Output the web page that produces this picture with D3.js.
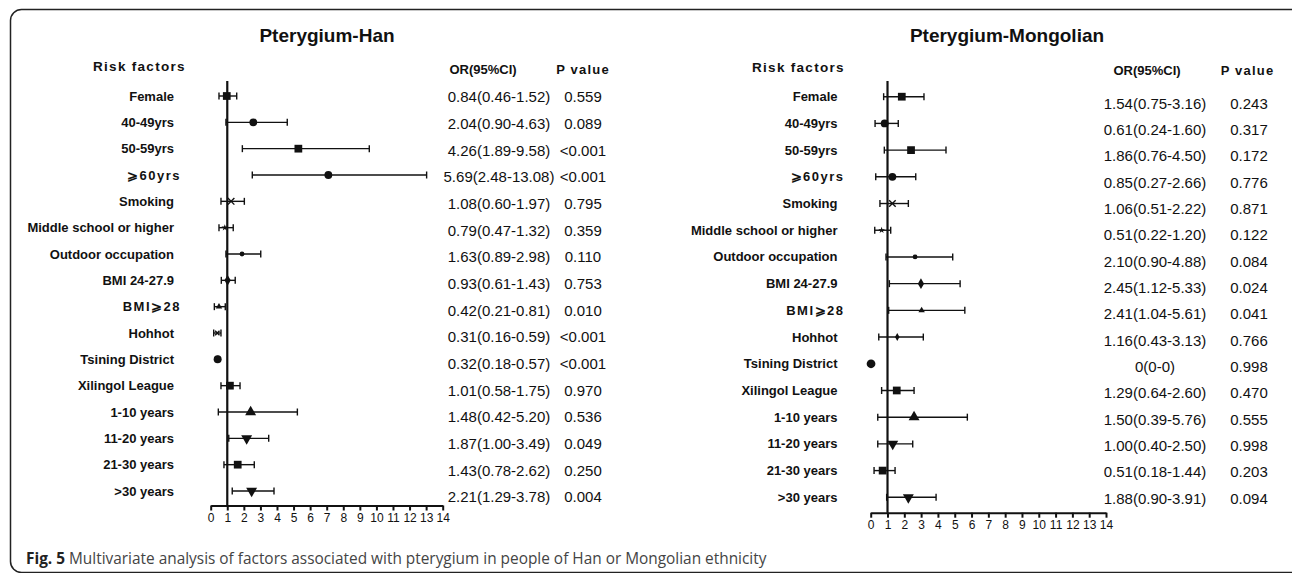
<!DOCTYPE html>
<html><head><meta charset="utf-8">
<script src="https://cdn.jsdelivr.net/npm/d3@7"></script>
<style>
html,body{margin:0;padding:0;background:#fff;}
svg{display:block;}
text{font-family:"Liberation Sans",Arial,sans-serif;fill:#111;}
</style></head>
<body>
<svg id="chart" width="1292" height="573"></svg>
<script>
// ---------- data ----------
const categories = ["Female","40-49yrs","50-59yrs","\u2A7E60yrs","Smoking","Middle school or higher",
  "Outdoor occupation","BMI 24-27.9","BMI\u2A7E28","Hohhot","Tsining District","Xilingol League",
  "1-10 years","11-20 years","21-30 years",">30 years"];
const markerShapes = ["square","circle","square","circle","cross","star","dot","diamond","smalltri",
  "asterisk","hexagon","square","triup","tridown","square","tridown"];
const markerShapesMongol = ["square","circle","square","circle","cross","star","dot","diamond","smalltri",
  "smalldiamond","bigcircle","square","triup","tridown","square","tridown"];

// Han panel (positions as plotted)
const hanPoint = [0.97,2.57,5.29,7.10,1.23,0.85,1.89,1.02,0.50,0.40,0.42,1.16,2.41,2.17,1.63,2.47];
const hanLow   = [0.50,0.92,1.91,2.51,0.62,0.50,0.92,0.64,0.22,0.18,0.40,0.62,0.46,1.09,0.80,1.30];
const hanHigh  = [1.57,4.62,9.57,13.03,2.03,1.36,3.02,1.48,0.88,0.62,0.45,1.77,5.23,3.50,2.63,3.82];
const hanORText = ["0.84(0.46-1.52)","2.04(0.90-4.63)","4.26(1.89-9.58)","5.69(2.48-13.08)","1.08(0.60-1.97)",
  "0.79(0.47-1.32)","1.63(0.89-2.98)","0.93(0.61-1.43)","0.42(0.21-0.81)","0.31(0.16-0.59)","0.32(0.18-0.57)",
  "1.01(0.58-1.75)","1.48(0.42-5.20)","1.87(1.00-3.49)","1.43(0.78-2.62)","2.21(1.29-3.78)"];
const hanP = ["0.559","0.089","<0.001","<0.001","0.795","0.359","0.110","0.753","0.010","<0.001","<0.001",
  "0.970","0.536","0.049","0.250","0.004"];

// Mongolian panel (positions as plotted)
const monPoint = [1.85,0.83,2.40,1.29,1.29,0.65,2.64,2.99,3.03,1.58,0.02,1.55,2.58,1.31,0.71,2.24];
const monLow   = [0.77,0.26,0.81,0.30,0.55,0.24,0.91,1.11,1.07,0.48,null,0.65,0.42,0.42,0.20,0.95];
const monHigh  = [3.17,1.64,4.48,2.68,2.24,1.19,4.88,5.32,5.60,3.13,null,2.58,5.75,2.50,1.45,3.89];
const monORText = ["1.54(0.75-3.16)","0.61(0.24-1.60)","1.86(0.76-4.50)","0.85(0.27-2.66)","1.06(0.51-2.22)",
  "0.51(0.22-1.20)","2.10(0.90-4.88)","2.45(1.12-5.33)","2.41(1.04-5.61)","1.16(0.43-3.13)","0(0-0)",
  "1.29(0.64-2.60)","1.50(0.39-5.76)","1.00(0.40-2.50)","0.51(0.18-1.44)","1.88(0.90-3.91)"];
const monP = ["0.243","0.317","0.172","0.776","0.871","0.122","0.084","0.024","0.041","0.766","0.998",
  "0.470","0.555","0.998","0.203","0.094"];

const xTicks = d3.range(0,15);
const titles = ["Pterygium-Han","Pterygium-Mongolian"];
const headerLabels = ["Risk factors","OR(95%CI)","P value"];
const caption = ["Fig. 5"," Multivariate analysis of factors associated with pterygium in people of Han or Mongolian ethnicity"];

// ---------- drawing ----------
const svg = d3.select("#chart");
svg.append("rect").attr("x",10.5).attr("y",9.5).attr("width",1295).attr("height",563)
  .attr("rx",11).attr("fill","none").attr("stroke","#222").attr("stroke-width",1.5);

function drawMarker(g, shape, cx, cy){
  const sym = {
    square:[d3.symbolSquare,60], circle:[d3.symbolCircle,48], cross:[d3.symbolTimes,30],
    star:[d3.symbolStar,14], dot:[d3.symbolCircle,18], diamond:[d3.symbolDiamond,34],
    smalltri:[d3.symbolTriangle,18], asterisk:[d3.symbolTimes,14], hexagon:[d3.symbolCircle,50],
    triup:[d3.symbolTriangle,52], tridown:[d3.symbolTriangle,52], smalldiamond:[d3.symbolDiamond,18],
    bigcircle:[d3.symbolCircle,60]
  }[shape];
  const p = g.append("path").attr("d", d3.symbol().type(sym[0]).size(sym[1])())
    .attr("transform", `translate(${cx},${cy})` + (shape==="tridown"?" rotate(180)":""));
  if(shape==="cross"||shape==="asterisk"){ p.attr("fill","none").attr("stroke","#111").attr("stroke-width",1.4); }
  else p.attr("fill","#111");
}

function panel(cfg){
  const g = svg.append("g");
  const x = d3.scaleLinear().domain([0,14]).range(cfg.xr);
  const y = d3.scaleLinear().domain([0,15]).range(cfg.yr);
  const yt = d3.scaleLinear().domain([0,15]).range(cfg.ytr);

  g.append("text").text(cfg.title).attr("x",cfg.titleX).attr("y",42)
    .attr("text-anchor","middle").attr("font-size",19).attr("font-weight","bold");
  g.append("text").text(headerLabels[0]).attr("x",cfg.rfX).attr("y",cfg.rfY)
    .attr("font-size",13.5).attr("font-weight","bold").attr("letter-spacing",1.3).attr("dominant-baseline","central");
  g.append("text").text(headerLabels[1]).attr("x",cfg.orHX).attr("y",cfg.hY)
    .attr("text-anchor","middle").attr("font-size",13).attr("font-weight","bold").attr("dominant-baseline","central");
  g.append("text").text(headerLabels[2]).attr("x",cfg.pHX).attr("y",cfg.hY)
    .attr("text-anchor","middle").attr("font-size",13).attr("font-weight","bold").attr("letter-spacing",1.2).attr("dominant-baseline","central");

  // row labels
  g.selectAll("text.lab").data(categories).join("text").attr("class","lab")
    .text(d=>d)
    .attr("x",d=> d.includes("\u2A7E") ? cfg.labX+7 : cfg.labX)
    .attr("y",(d,i)=>y(i)).attr("text-anchor","end").attr("dominant-baseline","central")
    .attr("font-size",13).attr("font-weight","bold")
    .attr("letter-spacing",d=> d.includes("\u2A7E") ? 1.5 : 0);

  // axis
  const axis = d3.axisBottom(x).tickValues(xTicks).tickSize(5).tickSizeOuter(0).tickPadding(3);
  const ag = g.append("g").attr("transform",`translate(0,${cfg.axisY})`).call(axis);
  ag.select(".domain").attr("stroke","#111").attr("stroke-width",2);
  ag.selectAll(".tick line").attr("stroke","#111").attr("stroke-width",2);
  ag.selectAll(".tick text").attr("font-size",12).attr("fill","#222")
    .attr("font-family","'Liberation Sans',Arial,sans-serif");

  // reference line
  g.append("line").attr("x1",x(1)).attr("x2",x(1)).attr("y1",81).attr("y2",cfg.axisY)
    .attr("stroke","#111").attr("stroke-width",2.2);

  // CIs
  cfg.point.forEach((v,i)=>{
    const cy = y(i);
    if(cfg.low[i]!=null){
      const x1 = x(cfg.low[i]), x2 = x(cfg.high[i]);
      g.append("line").attr("x1",x1).attr("x2",x2).attr("y1",cy).attr("y2",cy).attr("stroke","#111").attr("stroke-width",1.4);
      [x1,x2].forEach(xx=> g.append("line").attr("x1",xx).attr("x2",xx).attr("y1",cy-3.5).attr("y2",cy+3.5)
        .attr("stroke","#111").attr("stroke-width",1.4));
    }
    drawMarker(g, cfg.shapes[i], x(v), cy);
  });

  // OR text + P
  g.selectAll("text.or").data(cfg.orText).join("text").attr("class","or").text(d=>d)
    .attr("x",cfg.orX).attr("y",(d,i)=>yt(i)).attr("text-anchor","middle").attr("dominant-baseline","central")
    .attr("font-size",15);
  g.selectAll("text.pv").data(cfg.p).join("text").attr("class","pv").text(d=>d)
    .attr("x",cfg.pX).attr("y",(d,i)=>yt(i)).attr("text-anchor","middle").attr("dominant-baseline","central")
    .attr("font-size",15);
}

panel({title:titles[0], titleX:327, rfX:93, rfY:66, orHX:483, pHX:583, hY:69, labX:174,
  xr:[210.7,442.7], yr:[96,491], ytr:[96.7,496.7], axisY:505.5,
  point:hanPoint, low:hanLow, high:hanHigh, shapes:markerShapes, orText:hanORText, p:hanP, orX:499, pX:583});
panel({title:titles[1], titleX:1007, rfX:752, rfY:67, orHX:1147, pHX:1247.5, hY:70, labX:837.5,
  xr:[870.7,1106], yr:[96.7,497.3], ytr:[103.3,498.3], axisY:512.7,
  point:monPoint, low:monLow, high:monHigh, shapes:markerShapesMongol, orText:monORText, p:monP, orX:1155, pX:1249});

// caption
const cap = svg.append("text").attr("x",26).attr("y",564).attr("font-size",15.4)
  .style("font-family","'Open Sans','Noto Sans',sans-serif");
cap.append("tspan").text(caption[0]).attr("font-weight","bold").style("fill","#222");
cap.append("tspan").text(caption[1]).style("fill","#444");
</script>
</body></html>
